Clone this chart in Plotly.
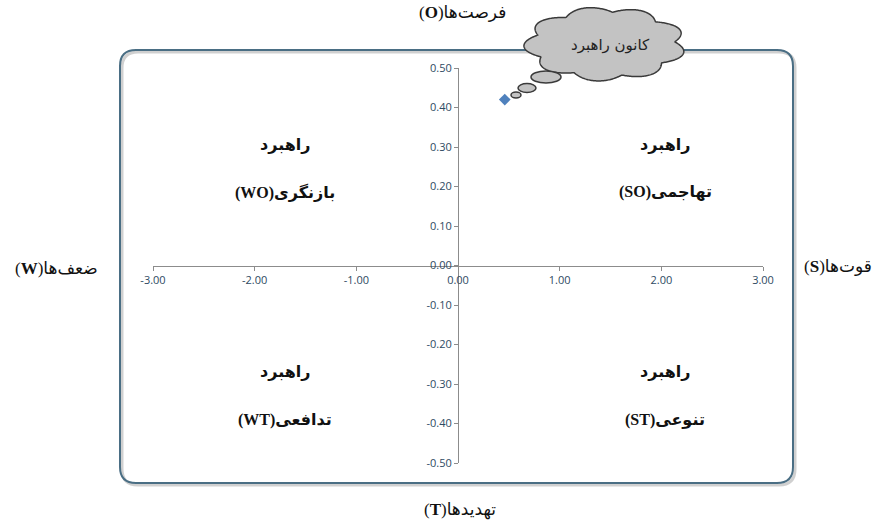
import numpy as np
import plotly.graph_objects as go

# ---- data ----
point_x = [0.46]
point_y = [0.42]
x_ticks = [-3.0, -2.0, -1.0, 0.0, 1.0, 2.0, 3.0]
y_ticks = [-0.5, -0.4, -0.3, -0.2, -0.1, 0.0, 0.1, 0.2, 0.3, 0.4, 0.5]
x_tick_labels = ["%.2f" % v for v in x_ticks]
y_tick_labels = ["%.2f" % v for v in y_ticks]

# ---- geometry helpers (screen pixel -> paper) ----
W, H = 896, 523
ML = 153
MR = W - 763
MT = 68
MB = H - 463
PW, PH = W - ML - MR, H - MT - MB


def px(x):
    return (x - ML) / PW


def py(y):
    return (H - MB - y) / PH


fig = go.Figure()
fig.add_trace(go.Scatter(
    x=point_x, y=point_y, mode="markers",
    marker=dict(symbol="diamond", size=9, color="#4F81BD"),
    hoverinfo="skip", cliponaxis=False))

tickfont = dict(family="Open Sans, Liberation Sans, sans-serif", size=11, color="#2E4A62")
axis_common = dict(showgrid=False, zeroline=False, showline=True, linecolor="#8C8C8C",
                   linewidth=1, ticks="outside", ticklen=4, tickcolor="#8C8C8C",
                   tickfont=tickfont, anchor="free", position=0.5)

shapes = []


def rounded_rect(x0, y0, x1, y1, r):
    pts = [
        ("M", x0 + r, y0), ("L", x1 - r, y0), ("Q", x1, y0, x1, y0 + r),
        ("L", x1, y1 - r), ("Q", x1, y1, x1 - r, y1), ("L", x0 + r, y1),
        ("Q", x0, y1, x0, y1 - r), ("L", x0, y0 + r), ("Q", x0, y0, x0 + r, y0)]
    s = ""
    for p in pts:
        cmd = p[0]
        coords = p[1:]
        parts = []
        for i in range(0, len(coords), 2):
            parts.append("%.5f,%.5f" % (px(coords[i]), py(coords[i + 1])))
        s += cmd + " " + " ".join(parts) + " "
    return s + "Z"


# shadow + frame
shapes.append(dict(type="path", xref="paper", yref="paper",
                   path=rounded_rect(122, 52, 795, 485, 16),
                   line=dict(color="rgba(120,120,120,0.35)", width=3), layer="below"))
shapes.append(dict(type="path", xref="paper", yref="paper",
                   path=rounded_rect(120, 50, 793, 483, 16),
                   line=dict(color="#4A6E84", width=2), layer="below"))

# cloud callout
cx, cy, a, b = 605, 44, 70, 32
th = np.linspace(0, 2 * np.pi, 500)
r = 1 + 0.16 * np.abs(np.sin(4.5 * th + 0.3))
xs = cx + a * r * np.cos(th)
ys = cy + b * r * np.sin(th)
cloud_path = "M " + " L ".join("%.5f,%.5f" % (px(x), py(y)) for x, y in zip(xs, ys)) + " Z"
shapes.append(dict(type="path", xref="paper", yref="paper", path=cloud_path,
                   fillcolor="#C3C3C3", line=dict(color="#3A3A3A", width=1.5), layer="above"))

for (bx, by, bw, bh) in [(546, 77, 30, 12), (527, 88, 18, 9), (516, 95, 10, 6)]:
    shapes.append(dict(type="circle", xref="paper", yref="paper",
                       x0=px(bx - bw / 2), x1=px(bx + bw / 2),
                       y0=py(by + bh / 2), y1=py(by - bh / 2),
                       fillcolor="#C3C3C3", line=dict(color="#3A3A3A", width=1.5), layer="above"))

labfont = dict(family="Liberation Serif, DejaVu Sans, serif", size=16, color="#111111")
annotations = []


def ann(x, y, text, size=16, bold=True):
    f = dict(labfont)
    f["size"] = size
    annotations.append(dict(xref="paper", yref="paper", x=px(x), y=py(y),
                            text=("<b>%s</b>" % text) if bold else text,
                            showarrow=False, font=f, xanchor="center", yanchor="middle"))


# quadrant labels
ann(665, 145, "راهبرد")
ann(665, 192, "(SO)تهاجمی")
ann(285, 145, "راهبرد")
ann(285, 192, "(WO)بازنگری")
ann(665, 372, "راهبرد")
ann(665, 420, "(ST)تنوعی")
ann(285, 372, "راهبرد")
ann(285, 420, "(WT)تدافعی")

# axis titles
ann(462, 13, "(<b>O</b>)فرصت‌ها", size=17, bold=False)
ann(460, 510, "(<b>T</b>)تهدیدها", size=17, bold=False)
ann(57, 268, "(<b>W</b>)ضعف‌ها", size=17, bold=False)
ann(838, 266, "(<b>S</b>)قوت‌ها", size=17, bold=False)

# cloud text
annotations.append(dict(xref="paper", yref="paper", x=px(610), y=py(45),
                        text="<span style='font-weight:normal'>کانون راهبرد</span>",
                        showarrow=False, xanchor="center", yanchor="middle",
                        font=dict(family="DejaVu Sans, sans-serif", size=15, color="#222222")))

fig.update_layout(
    width=W, height=H,
    margin=dict(l=ML, r=MR, t=MT, b=MB),
    paper_bgcolor="white", plot_bgcolor="white",
    showlegend=False,
    xaxis=dict(range=[-3, 3], tickvals=x_ticks, ticktext=x_tick_labels, **axis_common),
    yaxis=dict(range=[-0.5, 0.5], tickvals=y_ticks, ticktext=y_tick_labels, **axis_common),
    shapes=shapes,
    annotations=annotations,
)

fig.write_html("out.html", config={"displayModeBar": False},
               post_script="document.body.style.margin='0';document.body.style.overflow='hidden';")
